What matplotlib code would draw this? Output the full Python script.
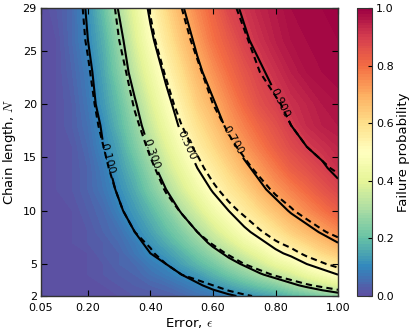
import numpy as np
import matplotlib
matplotlib.use("Agg")
import matplotlib.pyplot as plt

# Error values (columns) and chain lengths (rows)
eps = [0.05, 0.10, 0.15, 0.20, 0.25, 0.30, 0.35, 0.40, 0.45, 0.50,
       0.55, 0.60, 0.65, 0.70, 0.75, 0.80, 0.85, 0.90, 0.95, 1.00]
chain_N = [2, 3, 4, 5, 6, 7, 8, 10, 12, 14, 16, 18, 20, 23, 26, 29]

# Simulated failure probability (percent), rows follow chain_N
sim_pct = [
    [0,0,0,0,1,1,2,2,3,4,6,7,9,11,13,15,18,20,23,26],
    [0,0,0,1,1,2,3,4,5,7,9,12,15,18,21,24,28,32,36,39],
    [0,0,0,1,2,3,4,6,8,10,13,17,21,25,29,33,37,42,46,50],
    [0,0,1,1,2,4,5,8,10,14,18,22,27,31,36,41,45,50,54,58],
    [0,0,1,1,3,4,7,10,13,17,22,27,32,37,42,48,52,56,61,64],
    [0,0,1,2,3,5,8,12,16,21,26,32,37,43,48,53,58,62,66,70],
    [0,0,1,2,4,6,10,14,19,24,30,36,42,48,53,58,63,67,71,75],
    [0,0,1,3,5,9,13,18,24,31,37,44,50,56,61,66,71,75,79,83],
    [0,1,2,4,7,11,16,23,30,37,44,51,57,62,68,73,77,81,85,88],
    [0,1,2,4,8,13,19,27,35,42,50,56,62,68,73,78,83,86,89,92],
    [0,1,2,5,10,15,23,31,39,47,55,61,67,73,78,83,87,90,92,94],
    [0,1,3,6,11,18,26,35,43,52,59,65,72,77,82,86,90,93,95,96],
    [0,1,3,7,13,20,29,38,47,55,63,69,75,81,86,89,92,94,96,97],
    [0,1,4,8,15,24,34,43,52,60,68,74,80,85,89,92,95,97,98,99],
    [0,1,5,10,17,27,38,48,57,65,72,79,84,89,92,95,97,98,99,99],
    [0,2,5,11,20,31,41,52,61,69,76,82,88,91,94,96,98,99,99,100],
]

# Theoretical failure probability (percent), rows follow chain_N
theory_pct = [
    [0,0,0,0,1,1,1,2,3,4,5,6,7,9,11,13,15,18,20,23],
    [0,0,0,0,1,2,2,3,5,6,8,10,13,16,19,22,26,29,32,35],
    [0,0,0,1,1,2,4,5,7,10,12,15,19,23,27,31,34,38,41,44],
    [0,0,0,1,2,3,5,7,10,13,17,21,25,30,34,38,41,45,49,53],
    [0,0,1,1,3,4,6,9,13,17,21,26,31,35,39,43,47,52,56,60],
    [0,0,1,2,3,5,8,11,15,20,26,31,35,40,44,49,53,58,63,67],
    [0,0,1,2,4,6,10,14,18,24,30,35,40,44,49,54,59,64,69,73],
    [0,0,1,3,5,9,13,18,25,31,36,42,47,52,58,64,69,74,78,81],
    [0,1,2,4,7,11,16,23,31,36,42,48,54,60,66,72,76,80,84,87],
    [0,1,2,5,8,14,20,28,35,41,47,54,61,67,73,78,82,86,89,91],
    [0,1,2,5,10,16,24,32,39,46,52,60,67,73,78,83,86,90,92,94],
    [0,1,3,6,12,19,28,35,43,50,58,65,72,77,82,86,90,92,95,96],
    [0,1,3,7,14,22,31,39,46,54,62,70,76,81,86,89,92,95,96,97],
    [0,1,4,9,16,26,35,43,51,60,68,75,81,86,90,93,95,97,98,99],
    [0,2,5,11,19,30,39,47,57,66,73,80,85,89,93,95,97,98,99,99],
    [0,2,6,12,22,33,42,51,61,70,78,84,88,92,95,97,98,99,99,100],
]

contour_levels = [0.1, 0.3, 0.5, 0.7, 0.9]
x_ticks = [0.05, 0.20, 0.40, 0.60, 0.80, 1.00]
y_ticks = [2, 5, 10, 15, 20, 25, 29]
cbar_ticks = [0.0, 0.2, 0.4, 0.6, 0.8, 1.0]

plt.rcParams["font.family"] = ["DejaVu Sans"]
plt.rcParams["mathtext.fontset"] = "cm"
for a in ("xtick", "ytick"):
    plt.rcParams[a + ".direction"] = "in"
    plt.rcParams[a + ".major.size"] = 4
    plt.rcParams[a + ".major.width"] = 0.8
plt.rcParams["xtick.top"] = True
plt.rcParams["ytick.right"] = True

sim = np.array(sim_pct) / 100.0
theory = np.array(theory_pct) / 100.0

fig = plt.figure(figsize=(4.16, 3.29), dpi=100)
ax = fig.add_axes([0.0986, 0.1003, 0.714, 0.875])
cf = ax.contourf(eps, chain_N, sim, levels=np.linspace(0, 1, 101),
                 cmap="Spectral_r", vmin=0, vmax=1)
cs = ax.contour(eps, chain_N, sim, levels=contour_levels, colors="k",
                linewidths=1.5, linestyles="solid")
ax.contour(eps, chain_N, theory, levels=contour_levels, colors="k",
           linewidths=1.5, linestyles=[(0, (3.0, 2.0))])
ax.clabel(cs, fmt="%.3f", fontsize=8, inline=True, inline_spacing=4,
          manual=[(0.255, 14.8), (0.386, 15.2), (0.52, 16.2),
                  (0.664, 16.6), (0.815, 20.1)])

ax.set_xlim(0.05, 1.0)
ax.set_ylim(2, 29)
ax.set_xticks(x_ticks)
ax.set_xticklabels(["%.2f" % v for v in x_ticks])
ax.set_yticks(y_ticks)
ax.set_yticklabels([str(v) for v in y_ticks])
ax.tick_params(labelsize=8)
ax.tick_params(axis="x", pad=5)
ax.tick_params(axis="y", pad=3)
ax.set_xlabel(r"Error, $\epsilon$", fontsize=9.5, labelpad=2)
ax.set_ylabel(r"Chain length, $N$", fontsize=9.5, labelpad=3)
for s in ax.spines.values():
    s.set_color("#333333")
    s.set_linewidth(1.0)

cax = fig.add_axes([0.858, 0.1003, 0.036, 0.875])
cb = fig.colorbar(cf, cax=cax, ticks=cbar_ticks)
cb.ax.set_yticklabels(["%.1f" % v for v in cbar_ticks])
cb.ax.tick_params(labelsize=8, direction="in", length=3, pad=3)
cb.set_label("Failure probability", fontsize=9.5, labelpad=2)
cb.outline.set_edgecolor("#333333")

fig.savefig("out.png", dpi=100)
